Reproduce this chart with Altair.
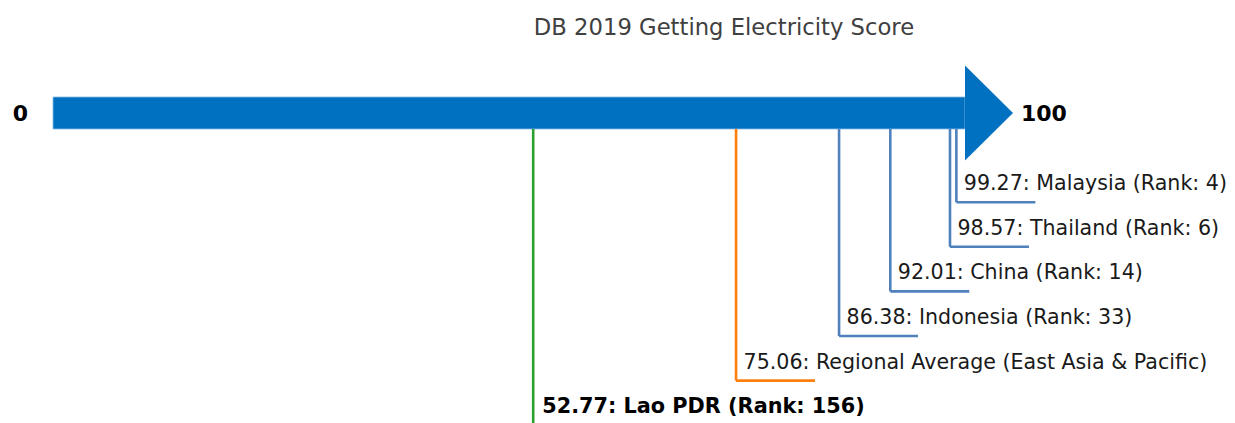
import altair as alt
import pandas as pd

# ---- data ----
names = ["Malaysia", "Thailand", "China", "Indonesia",
         "Regional Average (East Asia & Pacific)", "Lao PDR"]
scores = [99.27, 98.57, 92.01, 86.38, 75.06, 52.77]
ranks = [4, 6, 14, 33, None, 156]
groups = ["peer", "peer", "peer", "peer", "region", "focus"]
title_text = "DB 2019 Getting Electricity Score"
axis_min, axis_max = 0, 100
end_labels = ["0", "100"]

group_domain = ["peer", "region", "focus"]
group_colors = ["#4f81bd", "#ff7f0e", "#2ca02c"]
arrow_color = "#0070c0"

# ---- layout (pixels of the page) ----
W, H = 1219, 415
PPU = 9.1          # px per score unit
PPL = 44.6         # px per label level
X0 = 53            # page x of score 0
Y0 = 113           # page y of arrow centre
xdom = [(8 - X0) / PPU, (8 + W - X0) / PPU]
ydom = [(8 - Y0) / PPL, (8 + H - Y0) / PPL]

body_half = 16 / PPL
head_half = 47.5 / PPL
body_end = axis_max + 2 / PPU
head_tip = axis_max + 50 / PPU
leg_len = 79 / PPU

xs = alt.Scale(domain=xdom, nice=False, zero=False)
ys = alt.Scale(domain=ydom, nice=False, zero=False, reverse=True)

rows = []
for i, (n, s, r, g) in enumerate(zip(names, scores, ranks, groups)):
    lab = f"{s:.2f}: {n}" + (f" (Rank: {r})" if r is not None else "")
    rows.append(dict(name=n, score=s, level=i + 2, top=body_half,
                     leg_end=s + leg_len, label=lab, group=g))
df = pd.DataFrame(rows)

X = lambda f: alt.X(f, type="quantitative", scale=xs, axis=None)
Y = lambda f: alt.Y(f, type="quantitative", scale=ys, axis=None)
col = alt.Color("group:N", scale=alt.Scale(domain=group_domain, range=group_colors), legend=None)

body_df = pd.DataFrame({"x": [axis_min], "x2": [body_end], "y": [-body_half], "y2": [body_half]})
body = alt.Chart(body_df).mark_rect(color=arrow_color, stroke="#8cbbe6", strokeWidth=0.8).encode(
    x=X("x"), x2="x2", y=Y("y"), y2="y2")

head_df = pd.DataFrame({"x": [axis_max + 2 / PPU - 0.001, head_tip],
                        "yt": [-head_half, 0], "yb": [head_half, 0]})
head = alt.Chart(head_df).mark_area(color=arrow_color, orient="vertical", opacity=1).encode(
    x=X("x"), y=Y("yt"), y2="yb")

verts = alt.Chart(df).mark_rule(strokeWidth=2.6, clip=True).encode(
    x=X("score"), y=Y("top"), y2="level", color=col)
legs = alt.Chart(df).mark_rule(strokeWidth=2.6, clip=True).encode(
    x=X("score"), x2="leg_end", y=Y("level"), color=col)

labels = alt.Chart(df).transform_filter(alt.datum.group != "focus").mark_text(
    align="left", baseline="alphabetic", dx=7.5, dy=-12, fontSize=20.6,
    font="DejaVu Sans", color="#1a1a1a").encode(x=X("score"), y=Y("level"), text="label")
focus_lab = alt.Chart(df).transform_filter(alt.datum.group == "focus").mark_text(
    align="left", baseline="alphabetic", dx=9, dy=-12, fontSize=20.8, fontWeight="bold",
    font="DejaVu Sans", color="#000000").encode(x=X("score"), y=Y("level"), text="label")

end_df = pd.DataFrame({"x": [axis_min, head_tip], "y": [0, 0], "t": end_labels})
end0 = alt.Chart(end_df.iloc[[0]]).mark_text(
    align="center", baseline="alphabetic", dx=-32.5, dy=7.5, fontSize=22, fontWeight="bold",
    font="DejaVu Sans", color="#000000").encode(x=X("x"), y=Y("y"), text="t")
end1 = alt.Chart(end_df.iloc[[1]]).mark_text(
    align="left", baseline="alphabetic", dx=8, dy=8, fontSize=22, fontWeight="bold",
    font="DejaVu Sans", color="#000000").encode(x=X("x"), y=Y("y"), text="t")

title_df = pd.DataFrame({"x": [(724 - X0) / PPU], "y": [(35 - Y0) / PPL], "t": [title_text]})
title = alt.Chart(title_df).mark_text(
    align="center", baseline="alphabetic", fontSize=22.7, font="DejaVu Sans",
    color="#404040").encode(x=X("x"), y=Y("y"), text="t")

chart = alt.layer(body, head, verts, legs, labels, focus_lab, end0, end1, title).properties(
    width=W, height=H, padding=0, autosize=alt.AutoSizeParams(type="none")
).configure_view(stroke=None)

chart.save("out.html", embed_options={"renderer": "svg", "actions": False})
